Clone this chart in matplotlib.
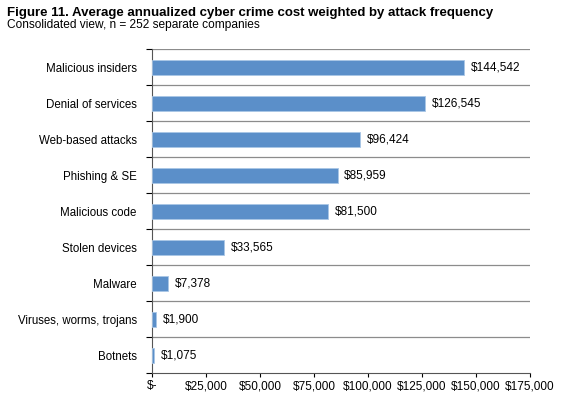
import matplotlib.pyplot as plt
from matplotlib.ticker import FuncFormatter, FixedLocator, NullFormatter
import numpy as np

plt.rcParams['font.family'] = ['Liberation Sans', 'DejaVu Sans']

categories = ["Malicious insiders", "Denial of services", "Web-based attacks",
              "Phishing & SE", "Malicious code", "Stolen devices", "Malware",
              "Viruses, worms, trojans", "Botnets"]
costs = [144542, 126545, 96424, 85959, 81500, 33565, 7378, 1900, 1075]
xticks = [0, 25000, 50000, 75000, 100000, 125000, 150000, 175000]

fig = plt.figure(figsize=(5.68, 3.98), dpi=100)
ax = fig.add_axes([0.2676, 0.062, 0.933 - 0.2676, 0.876 - 0.062])

n = len(categories)
y = np.arange(n)[::-1]
ax.barh(y, costs, height=0.4, color='#5b8fc9', edgecolor='#a9c6e6', linewidth=0.6, zorder=3)

for yi, v in zip(y, costs):
    ax.text(v + 3000, yi, f"${v:,}", va='center', ha='left', fontsize=8.5, color='black')

ax.set_xlim(0, 175000)
ax.set_ylim(-0.5, n - 0.5)

# lignes entre les categories
bounds = np.arange(n + 1) - 0.5
for b in bounds[1:]:
    ax.axhline(b, color='#8c8c8c', linewidth=0.9, zorder=1)

ax.set_xticks(xticks)
ax.xaxis.set_major_formatter(FuncFormatter(lambda v, p: "$-" if v == 0 else f"${int(v):,}"))
ax.tick_params(axis='x', length=3, width=0.8, color='black', labelsize=8.5, pad=2)

ax.set_yticks(y, labels=categories)
ax.yaxis.set_minor_locator(FixedLocator(bounds))
ax.yaxis.set_minor_formatter(NullFormatter())
ax.tick_params(axis='y', which='major', length=0, labelsize=8.3, pad=11)
ax.tick_params(axis='y', which='minor', length=4, width=0.8, color='black')

for s in ['top', 'right']:
    ax.spines[s].set_visible(False)
ax.spines['left'].set_color('#555555')
ax.spines['bottom'].set_color('#555555')

fig.text(0.012, 0.968, "Figure 11. Average annualized cyber crime cost weighted by attack frequency",
         fontsize=9.5, fontweight='bold', va='center', ha='left')
fig.text(0.012, 0.937, "Consolidated view, n = 252 separate companies",
         fontsize=8.6, va='center', ha='left')

fig.savefig("out.png", dpi=100)
